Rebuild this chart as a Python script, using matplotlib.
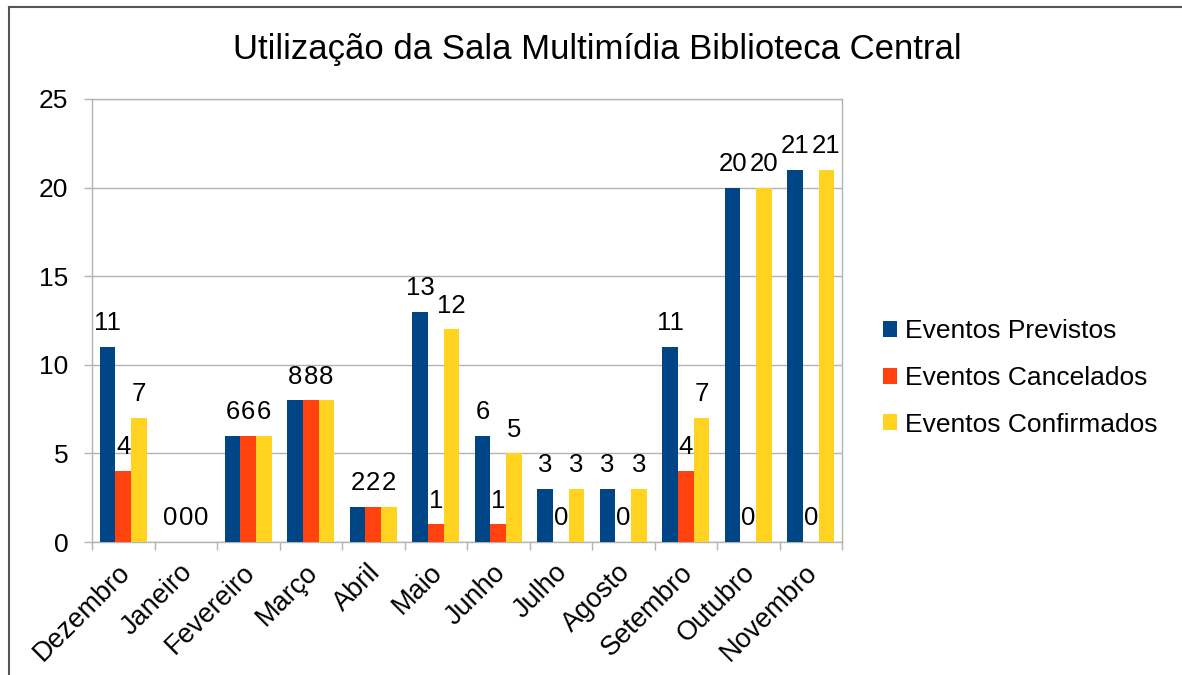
import matplotlib
matplotlib.use("Agg")
import matplotlib.pyplot as plt
from matplotlib.patches import Patch
from matplotlib.lines import Line2D
import numpy as np

plt.rcParams['font.family'] = ['Liberation Sans', 'DejaVu Sans']

meses = ["Dezembro", "Janeiro", "Fevereiro", "Março", "Abril", "Maio",
         "Junho", "Julho", "Agosto", "Setembro", "Outubro", "Novembro"]
previstos = [11, 0, 6, 8, 2, 13, 6, 3, 3, 11, 20, 21]
cancelados = [4, 0, 6, 8, 2, 1, 1, 0, 0, 4, 0, 0]
confirmados = [7, 0, 6, 8, 2, 12, 5, 3, 3, 7, 20, 21]
series_names = ["Eventos Previstos", "Eventos Cancelados", "Eventos Confirmados"]
colors = ["#004586", "#ff420e", "#ffd320"]
title = "Utilização da Sala Multimídia Biblioteca Central"
yticks = [0, 5, 10, 15, 20, 25]

W, H = 1182, 675
fig = plt.figure(figsize=(W / 100, H / 100), dpi=100)
ax = fig.add_axes([92 / W, 1 - 542 / H, (842 - 92) / W, (542 - 99) / H])

x = np.arange(len(meses))
bw = 0.25
grid_c = "#b3b3b3"
for i, (vals, c) in enumerate(zip([previstos, cancelados, confirmados], colors)):
    pos = x + (i - 1) * bw
    ax.bar(pos, vals, width=bw, color=c, zorder=3)
    for px, v in zip(pos, vals):
        ax.annotate(str(v), (px, v), xytext=(0, 12), textcoords="offset points",
                    ha="center", va="baseline", fontsize=18.5, zorder=4)

ax.set_xlim(-0.5, len(meses) - 0.5)
ax.set_ylim(0, 25)
ax.set_yticks(yticks)
ax.tick_params(axis="y", length=6, width=1, color=grid_c, labelsize=19, pad=11)
ax.yaxis.grid(True, color=grid_c, linewidth=1, zorder=0)
ax.set_xticks(np.arange(len(meses) + 1) - 0.5)
ax.set_xticklabels([])
ax.tick_params(axis="x", length=6, width=1, color=grid_c)
for s in ax.spines.values():
    s.set_color(grid_c)
    s.set_linewidth(1)

for xi, m in zip(x, meses):
    ax.text(xi - 0.1, -0.98, m, rotation=45, ha="right", va="top",
            rotation_mode="anchor", fontsize=19.5)

fig.text(597 / W, 1 - 59 / H, title, ha="center", va="baseline", fontsize=25)

handles = [Patch(facecolor=c, edgecolor="none") for c in colors]
fig.legend(handles, series_names, loc="center left",
           bbox_to_anchor=(872 / W, 1 - 378 / H), frameon=False,
           fontsize=19, handlelength=0.55, handleheight=0.55, handletextpad=0.3,
           labelspacing=0.86, borderaxespad=0)

# outer frame lines (partial border of the pasted chart)
fig.add_artist(Line2D([9 / W, 9 / W], [0, 1 - 7 / H], transform=fig.transFigure,
                      color="#555555", linewidth=1.5))
fig.add_artist(Line2D([9 / W, 1], [1 - 7 / H, 1 - 7 / H], transform=fig.transFigure,
                      color="#555555", linewidth=1.5))

fig.savefig("out.png", dpi=100)
